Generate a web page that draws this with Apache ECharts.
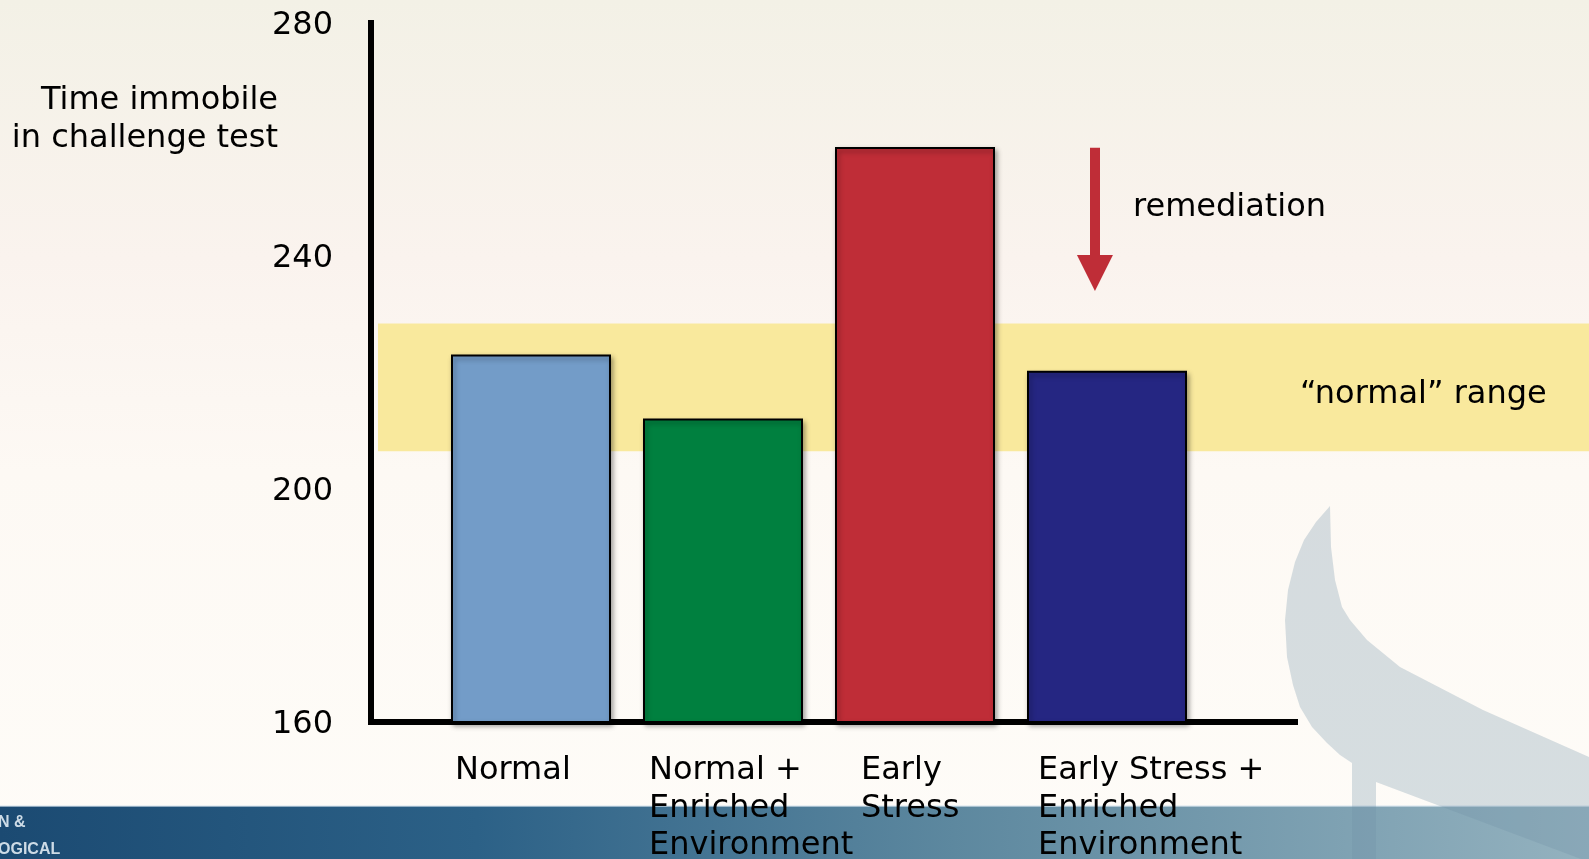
<!DOCTYPE html>
<html><head><meta charset="utf-8">
<script src="https://cdn.jsdelivr.net/npm/echarts/dist/echarts.min.js"></script>
<style>html,body{margin:0;padding:0;width:1589px;height:859px;overflow:hidden}#c{width:1589px;height:859px}</style>
</head><body><div id="c"></div>
<script>
// ---- data ----
const categories = ['Normal', 'Normal +\nEnriched\nEnvironment', 'Early\nStress', 'Early Stress +\nEnriched\nEnvironment'];
const values = [223.1, 212.1, 258.7, 220.3];
const barColors = ['#739cc8', '#00803f', '#bf2d37', '#252682'];
const yMin = 160, yMax = 280, yStep = 40;
const normalRange = [206.5, 228.4];
const arrowX = 0.7835;        // fraction along the horizontal axis
const arrowFrom = 258.6;      // value at arrow top
const arrowTo = 237.1;        // value at arrow head centre
const yAxisTitle = 'Time immobile\nin challenge test';
const remediationText = 'remediation';
const normalRangeText = '\u201cnormal\u201d range';

// ---- layout / style ----
const FONT = 'DejaVu Sans';
const FS = 32;
const TOP = 23, BOTTOM_Y = 722, H = BOTTOM_Y - TOP;
const labelShift = [76, 74, 54, 69];

const chart = echarts.init(document.getElementById('c'), null, {renderer: 'canvas'});
const rich = {};
labelShift.forEach((w, i) => { rich['c' + i] = {width: w, align: 'left', fontSize: FS, lineHeight: 37.5, fontFamily: FONT, color: '#000'}; });

const option = {
  animation: false,
  backgroundColor: {type: 'linear', x: 0, y: 0, x2: 0, y2: 1, colorStops: [
    {offset: 0, color: '#f3f1e6'}, {offset: 0.3, color: '#faf3ee'}, {offset: 0.55, color: '#fdf9f4'}, {offset: 1, color: '#fefcf8'}]},
  grid: [
    {left: 371, top: TOP, width: 924, height: H, outerBoundsMode: 'none', containLabel: false},   // axes
    {left: 435, top: TOP, width: 768, height: H, outerBoundsMode: 'none', containLabel: false},   // bars
    {left: 378, top: TOP, right: 0, height: H, outerBoundsMode: 'none', containLabel: false}      // band
  ],
  xAxis: [
    {gridIndex: 0, type: 'value', min: 0, max: 1, axisLine: {show: true, onZero: false, lineStyle: {color: '#000', width: 6, cap: 'square'}},
      axisTick: {show: false}, axisLabel: {show: false}, splitLine: {show: false}},
    {gridIndex: 1, type: 'category', data: categories, axisLine: {show: false}, axisTick: {show: false}, splitLine: {show: false},
      axisLabel: {interval: 0, align: 'right', verticalAlign: 'top', margin: 30,
        formatter: (v, i) => v.split('\n').map(l => '{c' + i + '|' + l + '}').join('\n'), rich: rich}},
    {gridIndex: 2, type: 'value', min: 0, max: 1, show: false}
  ],
  yAxis: [
    {gridIndex: 0, type: 'value', min: yMin, max: yMax, interval: yStep,
      axisLine: {show: true, lineStyle: {color: '#000', width: 6, cap: 'square'}}, axisTick: {show: false}, splitLine: {show: false},
      axisLabel: {margin: 38, color: '#000', formatter: v => '{v|' + v + '}',
        rich: {v: {fontSize: FS, fontFamily: FONT, color: '#000', padding: [5, 0, 0, 0]}}}},
    {gridIndex: 1, type: 'value', min: yMin, max: yMax, interval: yStep, show: false},
    {gridIndex: 2, type: 'value', min: yMin, max: yMax, interval: yStep, show: false}
  ],
  series: [
    {type: 'line', xAxisIndex: 2, yAxisIndex: 2, data: [], z: 1,
      markArea: {silent: true, itemStyle: {color: '#f9e99d'}, data: [[{yAxis: normalRange[1]}, {yAxis: normalRange[0]}]]}},
    {type: 'bar', xAxisIndex: 1, yAxisIndex: 1, barWidth: 160, z: 3,
      data: values.map((v, i) => ({value: v, itemStyle: {color: barColors[i]}})),
      itemStyle: {borderColor: '#000', borderWidth: 2, shadowBlur: 5, shadowOffsetX: 2, shadowOffsetY: 3, shadowColor: 'rgba(0,0,0,0.35)'}},
    {type: 'line', xAxisIndex: 0, yAxisIndex: 0, data: [], z: 4,
      markLine: {silent: true, symbol: ['none', 'triangle'], symbolSize: [36, 36], label: {show: false},
        lineStyle: {color: '#bf2d37', width: 10, type: 'solid'},
        data: [[{coord: [arrowX, arrowFrom]}, {coord: [arrowX, arrowTo]}]]}}
  ],
  graphic: [
    {type: 'rect', z: -2, silent: true, shape: {x: 0, y: 806, width: 1589, height: 53},
      style: {fill: {type: 'linear', x: 0, y: 0, x2: 1, y2: 0, colorStops: [
        {offset: 0, color: '#1b4a72'}, {offset: 0.3, color: '#2c6187'}, {offset: 0.6, color: '#5d889f'}, {offset: 1, color: '#94b2bf'}]}}},
    {type: 'rect', z: -2, silent: true, shape: {x: 0, y: 805, width: 1589, height: 2}, style: {fill: 'rgba(220,232,240,0.6)'}},
    {type: 'polygon', z: -1, silent: true,
      shape: {points: [[1330,506],[1316,522],[1304,540],[1295,562],[1288,590],[1285,620],[1287,657],[1293,685],[1300,707],[1312,727],[1327,743],[1340,755],[1352,763],[1352,859],[1376,859],[1376,782],[1589,862],[1589,757],[1483,710],[1400,667],[1367,640],[1350,620],[1342,607],[1335,580],[1331,547]]},
      style: {fill: 'rgba(110,145,165,0.28)'}},
    {type: 'text', z: 5, x: -2, y: 823, style: {text: 'N &', fill: '#cddbe6', font: 'bold 16px "Liberation Sans"', verticalAlign: 'middle'}},
    {type: 'text', z: 5, x: -2, y: 850, style: {text: 'OGICAL', fill: '#cddbe6', font: 'bold 16px "Liberation Sans"', verticalAlign: 'middle'}},
    {type: 'text', z: 5, x: 278, y: 120, style: {text: yAxisTitle, fill: '#000', font: FS + 'px "' + FONT + '"', align: 'right', verticalAlign: 'middle', lineHeight: 38}},
    {type: 'text', z: 5, x: 1133, y: 208, style: {text: remediationText, fill: '#000', font: FS + 'px "' + FONT + '"', align: 'left', verticalAlign: 'middle'}},
    {type: 'text', z: 5, x: 1300, y: 395, style: {text: normalRangeText, fill: '#000', font: FS + 'px "' + FONT + '"', align: 'left', verticalAlign: 'middle'}}
  ]
};
chart.setOption(option);
</script></body></html>
